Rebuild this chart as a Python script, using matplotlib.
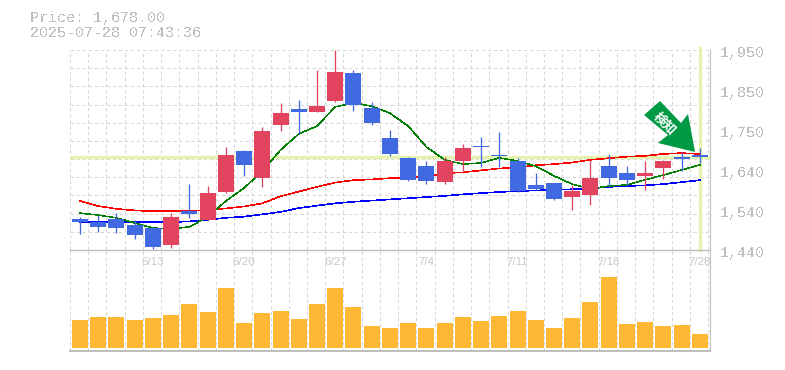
import numpy as np
import matplotlib
matplotlib.use('Agg')
import matplotlib.pyplot as plt
from matplotlib.patches import Polygon

W, H = 785, 370

# candles, oldest first
abre = [1519, 1511, 1519, 1504, 1496, 1453, 1539, 1517, 1588, 1692, 1624, 1759, 1800, 1792, 1820, 1891, 1802, 1726,
        1675, 1654, 1613, 1667, 1705, 1682, 1667, 1606, 1611, 1575, 1580, 1654, 1636, 1629, 1649, 1677, 1682]
fecha = [1511, 1499, 1496, 1478, 1448, 1524, 1532, 1585, 1682, 1657, 1743, 1789, 1792, 1807, 1894, 1810, 1764, 1685,
         1618, 1616, 1667, 1700, 1703, 1680, 1590, 1596, 1570, 1590, 1624, 1624, 1618, 1636, 1667, 1672, 1677]
maxima = [1524, 1529, 1534, 1517, 1499, 1534, 1608, 1603, 1703, 1695, 1754, 1815, 1822, 1899, 1950, 1899, 1817, 1746,
          1677, 1667, 1677, 1710, 1728, 1741, 1675, 1636, 1611, 1606, 1672, 1685, 1654, 1667, 1670, 1690, 1700]
minima = [1481, 1486, 1483, 1468, 1443, 1445, 1522, 1517, 1585, 1629, 1601, 1743, 1736, 1792, 1817, 1794, 1759, 1680,
          1616, 1608, 1608, 1636, 1652, 1652, 1588, 1593, 1567, 1542, 1555, 1601, 1603, 1593, 1621, 1641, 1662]
volume = [28, 31, 31, 28, 30, 33, 44, 36, 60, 25, 35, 37, 29, 44, 60, 41, 22, 20,
          25, 20, 25, 31, 27, 32, 37, 28, 20, 30, 46, 71, 24, 26, 22, 23, 14]

# medias moveis
media_curta = [1534, 1529, 1522, 1509, 1496, 1494, 1499, 1524, 1565, 1598, 1641, 1695, 1736, 1756, 1805, 1815, 1807, 1789,
               1756, 1703, 1670, 1659, 1662, 1675, 1667, 1654, 1629, 1608, 1596, 1603, 1606, 1619, 1631, 1644, 1657]
media_media = [1565, 1552, 1545, 1541, 1539, 1539, 1539, 1542, 1546, 1551, 1559, 1577, 1589, 1601, 1612, 1618, 1620, 1623,
               1624, 1627, 1636, 1638, 1643, 1648, 1650, 1656, 1659, 1663, 1670, 1674, 1678, 1680, 1685, 1687, 1685]
media_longa = [1511, 1511, 1511, 1511, 1511, 1511, 1513, 1517, 1522, 1525, 1531, 1537, 1547, 1553, 1559, 1563, 1566, 1569,
               1572, 1575, 1578, 1582, 1585, 1588, 1590, 1592, 1593, 1595, 1597, 1601, 1603, 1605, 1608, 1613, 1618]

pos_datas = [4, 9, 14, 19, 24, 29, 34]
datas = ['6/13', '6/20', '6/27', '7/4', '7/11', '7/18', '7/28']
precos_eixo = [1950, 1848, 1746, 1644, 1542, 1440]
rotulos_eixo = ['1,950', '1,850', '1,750', '1,640', '1,540', '1,440']
preco_atual = 1678

VERMELHO = '#E2445F'
AZUL = '#4169E1'
CINZA = '#BEBEBE'
GRADE = '#D8D8D8'
AMARELO = '#E4F3AE'
px = 0.72  # 1 pixel em pontos, dpi 100


def eixo_px(esq, topo, dir, base):
    return plt.figure(1).add_axes([esq / W, 1 - base / H, (dir - esq) / W, (base - topo) / H])


def grade_vertical(ax, passo=18.23):
    ax.set_xlim(-10 / passo, 630 / passo)
    ax.set_xticks(np.arange(36) - 10 / passo, minor=True)
    ax.grid(True, which='minor', axis='x', color=GRADE, lw=1.1 * px, linestyle=(0, (3, 2.5)))
    ax.tick_params(which='both', length=0)
    ax.set_axisbelow(True)
    for lado in ['left', 'top']:
        ax.spines[lado].set_visible(False)
    for lado in ['right', 'bottom']:
        ax.spines[lado].set_color(CINZA)


fig = plt.figure(1, figsize=(W / 100, H / 100), dpi=100)

# painel de precos
ax = eixo_px(70, 50, 710, 250)
grade_vertical(ax)
ax.set_ylim(1440, 1950)
ax.set_yticks(1440 + np.arange(12) * 510 / 11)
ax.set_yticklabels([])
ax.grid(True, which='major', axis='y', color=GRADE, lw=1.1 * px, linestyle=(0, (3, 2.5)))
ax.spines['right'].set_linewidth(1.1 * px)
ax.spines['bottom'].set_linewidth(1.4 * px)
ax.patch.set_alpha(0)

ax.set_xticks(pos_datas)
ax.set_xticklabels(datas, family='Liberation Sans', fontsize=11.5 * px, color='#C8C8C8')
ax.tick_params(axis='x', which='major', pad=7 * px)

ax.axhline(preco_atual, color=AMARELO, lw=3.4 * px, zorder=1.5)
ax.axvline(34.02, ymin=0, ymax=1.01, color=AMARELO, lw=3.4 * px, zorder=1.5, clip_on=False)

x = np.arange(len(abre))
ax.plot(x, media_media, color='#FF0000', lw=0.6 * px, antialiased=False, zorder=2)
ax.plot(x, media_longa, color='#0000FF', lw=0.6 * px, antialiased=False, zorder=2)
ax.plot(x, media_curta, color='#008000', lw=0.5 * px, antialiased=False, zorder=2)

for i in x:
    cor = VERMELHO if fecha[i] > abre[i] else AZUL
    ax.vlines(i, minima[i], maxima[i], color=cor, lw=1.3 * px, zorder=3)
    ax.bar(i, abs(fecha[i] - abre[i]), bottom=min(abre[i], fecha[i]), width=16 / 18.23, color=cor, lw=0, zorder=3)

for preco, rotulo in zip(precos_eixo, rotulos_eixo):
    ax.annotate(rotulo, xy=(1, preco), xycoords=('axes fraction', 'data'), xytext=(10 * px, -3 * px),
                textcoords='offset points', family='Liberation Mono', fontsize=15 * px, color=CINZA,
                va='center', ha='left', antialiased=False)

# painel de volume
ax2 = eixo_px(70, 250, 710, 350.5)
grade_vertical(ax2)
ax2.set_ylim(-2.5, 98)
ax2.set_yticks([])
ax2.set_xticks([])
ax2.spines['right'].set_linewidth(1.1 * px)
ax2.spines['bottom'].set_linewidth(2 * px)
ax2.patch.set_alpha(0)
ax2.bar(x, volume, width=16 / 18.23, color='#FFB833', lw=0, zorder=3)

# seta e textos por cima
topo = fig.add_axes([0, 0, 1, 1], zorder=10)
topo.set_xlim(0, W)
topo.set_ylim(H, 0)
topo.axis('off')
topo.add_patch(Polygon([(660, 101), (644, 115), (668, 135), (658, 143), (695, 152), (688, 114), (681, 123)],
                       closed=True, facecolor='#009944', edgecolor='none'))
topo.text(664.5, 123.5, '検知', family='Noto Sans CJK JP', weight='bold', fontsize=13 * px, color='white',
          rotation=-45, rotation_mode='anchor', ha='center', va='center')
topo.text(30, 18, 'Price: 1,678.00', family='Liberation Mono', fontsize=15 * px, color=CINZA, va='center',
          antialiased=False)
topo.text(30, 33, '2025-07-28 07:43:36', family='Liberation Mono', fontsize=15 * px, color=CINZA, va='center',
          antialiased=False)

fig.savefig('out.png', dpi=100)
